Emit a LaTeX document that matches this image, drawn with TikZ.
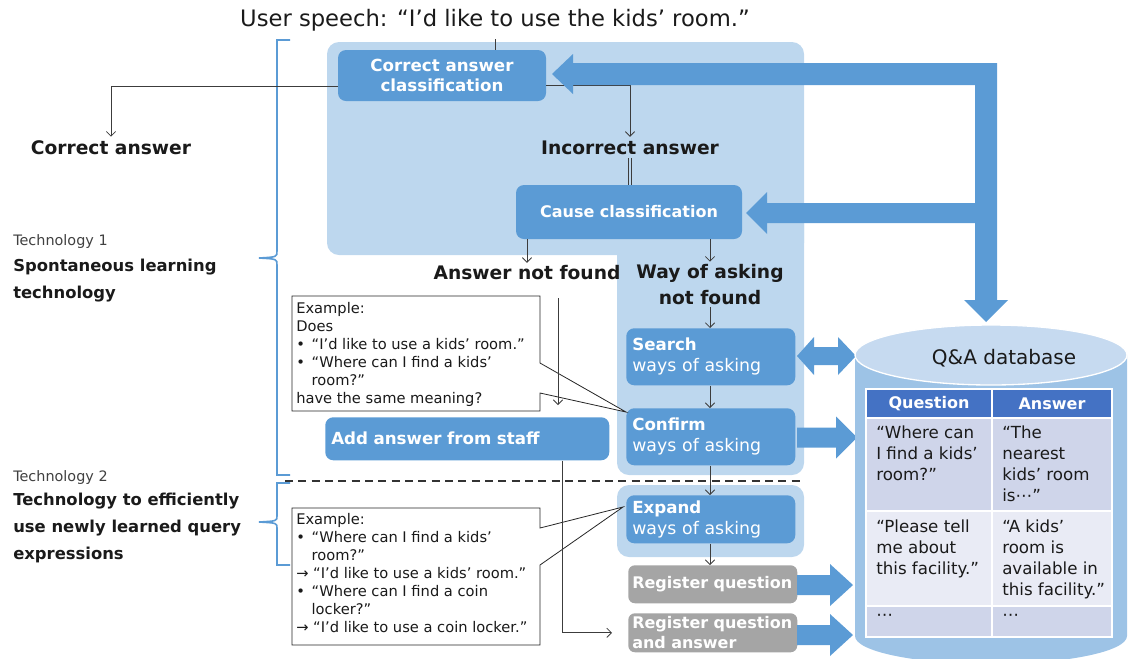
\documentclass[tikz,border=0pt]{standalone}
\usepackage{fontspec}
\setmainfont{DejaVu Sans}
\usetikzlibrary{arrows.meta}

\definecolor{regionblue}{HTML}{BDD7EE}
\definecolor{boxblue}{HTML}{5B9BD5}
\definecolor{stepgray}{HTML}{A5A5A5}
\definecolor{linegray}{HTML}{3C3C3C}
\definecolor{inkdark}{HTML}{1A1A1A}
\definecolor{headblue}{HTML}{4472C4}
\definecolor{rowdark}{HTML}{CFD5EA}
\definecolor{rowlight}{HTML}{E9EBF5}
\definecolor{dbtop}{HTML}{C6DAF0}
\definecolor{dbbody}{HTML}{9DC3E6}

\newcommand{\setfs}[2]{\fontsize{#1}{#2}\selectfont}
\newcommand{\cbul}{\makebox[1.05em][l]{•}}
\newcommand{\cind}{\hspace*{1.05em}}
% right-pointing block arrow: start x, head base x, tip x, centre y
\newcommand{\blockarrow}[4]{%
  \fill[boxblue] (#1,#4-10) -- (#2,#4-10) -- (#2,#4-21) -- (#3,#4)
     -- (#2,#4+21) -- (#2,#4+10) -- (#1,#4+10) -- cycle;}

\begin{document}
\begin{tikzpicture}[x=0.75pt,y=-0.75pt,
  procbox/.style={fill=boxblue, rounded corners=6pt, text=white, inner sep=0pt, align=center},
  stepbox/.style={fill=boxblue, rounded corners=6pt, text=white, anchor=north west,
    inner xsep=4.5pt, inner ysep=0pt, text width=117.75pt, align=left, font=\setfs{13}{15.75}},
  graybox/.style={fill=stepgray, rounded corners=5pt, text=white, anchor=north west,
    inner xsep=3pt, inner ysep=0pt, text width=120.75pt, align=left, font=\bfseries\setfs{12}{15}},
  flowlabel/.style={text=inkdark, font=\bfseries\setfs{14}{19}, inner sep=1pt, align=center},
  conn/.style={draw=linegray, line width=0.6pt, -{Straight Barb[length=3.5pt,width=7pt]}},
  notebox/.style={draw=black!85, line width=0.6pt, fill=white},
  notetext/.style={anchor=north west, inner sep=0pt, align=left, text=inkdark, font=\setfs{11}{13.5}},
  sidebrace/.style={draw=boxblue, line width=1.2pt},
  celltext/.style={anchor=north west, inner sep=0pt, align=left, text=inkdark, font=\setfs{12.5}{15.75}},
]
\useasboundingbox (0,0) rectangle (1131,658);

% shaded process regions
\fill[regionblue, rounded corners=9pt] (327,42) rectangle (804,255);
\fill[regionblue, rounded corners=9pt] (617,200) rectangle (804,475);
\fill[regionblue, rounded corners=9pt] (617,485) rectangle (804,557);

% title and side captions
\node[text=inkdark, font=\setfs{17}{20}, inner sep=1pt] (title) at (495,20)
  {User speech: “I’d like to use the kids’ room.”};

\node[anchor=west, text=black!75, font=\setfs{10.8}{13}, inner sep=0pt] (tech1) at (13,242) {Technology 1};
\node[anchor=west, align=left, text=inkdark, font=\bfseries\setfs{12.3}{20}, inner sep=0pt] (tech1name) at (13,280.5)
  {Spontaneous learning\\technology};
\node[anchor=west, text=black!75, font=\setfs{10.8}{13}, inner sep=0pt] (tech2) at (13,478) {Technology 2};
\node[anchor=west, align=left, text=inkdark, font=\bfseries\setfs{12.3}{20}, inner sep=0pt] (tech2name) at (13,528)
  {Technology to efficiently\\use newly learned query\\expressions};

% braces grouping the two technologies
\draw[sidebrace] (290,40) -- (277,40) -- (277,251) .. controls (277,257) .. (259,258);
\draw[sidebrace] (259,258) .. controls (277,259) .. (277,265) -- (277,475) -- (290,475);
\draw[sidebrace] (290,483) -- (277,483) -- (277,516) .. controls (277,521) .. (259,522);
\draw[sidebrace] (259,522) .. controls (277,523) .. (277,528) -- (277,565) -- (290,565);

% separator between the two technologies
\draw[draw=black!80, line width=1.3pt, dash pattern=on 6pt off 4pt] (285,481) -- (804,481);

% process boxes
\node[procbox, minimum width=156pt, minimum height=38.25pt, font=\bfseries\setfs{12.5}{15}] (cac) at (442,75.5)
  {Correct answer\\classification};
\node[procbox, minimum width=169.5pt, minimum height=40.5pt, font=\bfseries\setfs{12}{15}] (cause) at (629,212)
  {Cause classification};
\node[stepbox, minimum height=42.75pt] (search) at (626,328) {{\bfseries\setfs{12.5}{15.75}Search}\\ways of asking};
\node[stepbox, minimum height=42.75pt] (confirm) at (626,408) {{\bfseries\setfs{12.5}{15.75}Confirm}\\ways of asking};
\node[stepbox, minimum height=36pt] (expand) at (626,495) {{\bfseries\setfs{12.5}{15.75}Expand}\\ways of asking};
\node[graybox, minimum height=28.5pt] (regq) at (628,565) {Register question};
\node[graybox, minimum height=29.25pt] (regqa) at (628,613) {Register question\\and answer};
\node[fill=boxblue, rounded corners=6pt, text=white, anchor=north west, inner xsep=4.5pt, inner ysep=0pt,
  text width=204pt, minimum height=32.25pt, align=left, font=\bfseries\setfs{12.5}{15}] (addans) at (325,417)
  {Add answer from staff};

% outcome labels
\node[flowlabel] (correct) at (111,148) {Correct answer};
\node[flowlabel] (incorrect) at (630,148) {Incorrect answer};
\node[flowlabel] (notfound) at (527,273) {Answer not found};
\node[flowlabel] (wayask) at (710,284.5) {Way of asking\\not found};

% thin flow connectors
\draw[linegray, line width=0.6pt, shorten <=5pt] (title.south) -- (title.south |- cac.north);
\draw[conn, shorten >=2pt] ([yshift=-8pt]cac.west) -| (correct.north);
\draw[conn, shorten >=2pt] ([yshift=-7.5pt]cac.east) -| (incorrect.north);
\draw[linegray, line width=0.45pt, double=regionblue, double distance=1.6pt, shorten <=1pt]
  (incorrect.south) -- (incorrect.south |- cause.north);
\draw[conn, shorten >=1pt] (cause.south -| notfound.north) -- (notfound.north);
\draw[conn, shorten >=1pt] (cause.south -| wayask.north) -- (wayask.north);
\draw[conn, shorten <=1pt] (wayask.south) -- (wayask.south |- search.north);
\draw[conn] (search.south -| wayask.south) -- (wayask.south |- confirm.north);
\draw[conn] (confirm.south -| wayask.south) -- (wayask.south |- expand.north);
\draw[conn] (expand.south -| wayask.south) -- (wayask.south |- regq.north);

% big flow arrows from the Q&A database
\fill[boxblue] (552,74) -- (573,54) -- (573,63) -- (997,63) -- (997,300) -- (1008,300) -- (986,322)
  -- (964,300) -- (975,300) -- (975,223) -- (767,223) -- (767,234) -- (746,213) -- (767,192)
  -- (767,203) -- (975,203) -- (975,85) -- (573,85) -- (573,94) -- cycle;
\fill[boxblue] (797,356) -- (814,337) -- (814,347) -- (838,347) -- (838,337) -- (856,356)
  -- (838,375) -- (838,365) -- (814,365) -- (814,375) -- cycle;
\blockarrow{797}{836}{857}{437.5}
\blockarrow{797}{830}{853}{585}
\blockarrow{797}{830}{853}{635}

% Q&A database cylinder
\fill[dbbody] (855,355) -- (855,636) arc[start angle=180, end angle=0, x radius=136, y radius=28]
  -- (1127,355) -- cycle;
\filldraw[fill=dbtop, draw=white, line width=1pt] (991,355) ellipse[x radius=136, y radius=30];
\node[text=inkdark, font=\setfs{15}{18}, inner sep=0pt] (dbname) at (1004,358) {Q\&A database};

% table
\fill[headblue] (866,389) rectangle (1112,418);
\fill[rowdark] (866,418) rectangle (1112,511);
\fill[rowlight] (866,511) rectangle (1112,606);
\fill[rowdark] (866,606) rectangle (1112,637);
\draw[white, line width=1.2pt] (866,389) rectangle (1112,637);
\draw[white, line width=1.2pt] (992,389) -- (992,637);
\draw[white, line width=1.2pt] (866,418) -- (1112,418) (866,511) -- (1112,511) (866,606) -- (1112,606);
\node[text=white, font=\bfseries\setfs{12}{14}, inner sep=0pt] (qhead) at (929,404) {Question};
\node[text=white, font=\bfseries\setfs{12}{14}, inner sep=0pt] (ahead) at (1052,404) {Answer};
\node[celltext] (q1) at (876,426) {“Where can\\I find a kids’\\room?”};
\node[celltext] (a1) at (1002,426) {“The\\nearest\\kids’ room\\is⋯”};
\node[celltext] (q2) at (876,520) {“Please tell\\me about\\this facility.”};
\node[celltext] (a2) at (1002,520) {“A kids’\\room is\\available in\\this facility.”};
\node[celltext] (q3) at (876,614) {⋯};
\node[celltext] (a3) at (1002,614) {⋯};

% example callouts
\draw[notebox] (292,296) -- (540,296) -- (540,363) -- ([yshift=-3pt]confirm.north west)
  -- (540,393) -- (540,411) -- (292,411) -- cycle;
\node[notetext] (ex1) at (296,302)
  {Example:\\Does\\\cbul“I’d like to use a kids’ room.”\\\cbul“Where can I find a kids’\\\cind room?”\\have the same meaning?};
\draw[notebox] (292,508) -- (540,508) -- (540,528) -- ([shift={(-2.25pt,-9pt)}]expand.north west)
  -- (540,565) -- (540,645) -- (292,645) -- cycle;
\node[notetext] (ex2) at (296,513)
  {Example:\\\cbul“Where can I find a kids’\\\cind room?”\\→ “I’d like to use a kids’ room.”\\\cbul“Where can I find a coin\\\cind locker?”\\→ “I’d like to use a coin locker.”};

% staff path
\coordinate (nfdrop) at (558,298);
\draw[conn, shorten >=9pt] (nfdrop) -- (nfdrop |- addans.north);
\draw[conn, shorten >=12pt] ([xshift=71.25pt]addans.south) |- (regqa.west);

\end{tikzpicture}
\end{document}
